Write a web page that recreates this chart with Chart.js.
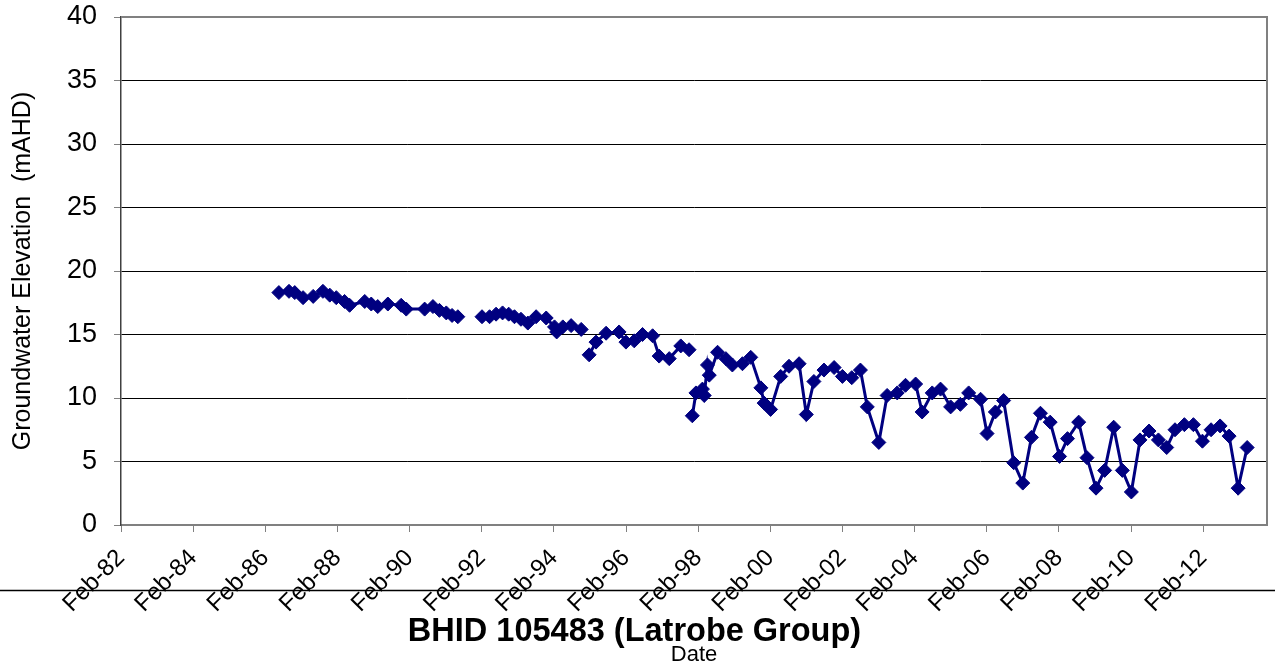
<!DOCTYPE html>
<html>
<head>
<meta charset="utf-8">
<title>BHID 105483 (Latrobe Group)</title>
<script src="https://cdn.jsdelivr.net/npm/chart.js@4.4.1/dist/chart.umd.min.js"></script>
<style>
    html, body { margin: 0; padding: 0; background: #ffffff; }
</style>
</head>
<body>
<canvas id="bore" width="1275" height="668"></canvas>
<script>
// fechas en años decimales, null = hueco en la serie
var fechas = [
    1986.46, 1986.74, 1986.90, 1987.13, 1987.41, 1987.68, 1987.87, 1988.05, 1988.28, 1988.42,
    1988.84, 1989.02, 1989.20, 1989.48, 1989.85, 1989.99, 1990.50, 1990.73, 1990.91, 1991.10,
    1991.26, 1991.42, 1991.80,
    1992.09, 1992.30, 1992.48, 1992.66, 1992.83, 1992.99, 1993.17, 1993.36, 1993.59, 1993.87,
    1994.10, 1994.16, 1994.33, 1994.56, 1994.84, 1994.95,
    1995.06, 1995.25, 1995.53, 1995.89, 1996.08, 1996.31, 1996.54, 1996.82, 1997.00, 1997.28,
    1997.60, 1997.83, 1997.87,
    1997.92, 1998.02, 1998.20, 1998.25, 1998.34, 1998.39, 1998.62, 1998.85, 1999.03, 1999.31,
    1999.54, 1999.82, 1999.91, 2000.09, 2000.37, 2000.60, 2000.88, 2001.08, 2001.29, 2001.57,
    2001.85, 2002.08, 2002.34, 2002.58, 2002.77, 2003.09, 2003.32, 2003.60, 2003.83, 2004.11,
    2004.29, 2004.57, 2004.80, 2005.08, 2005.35, 2005.58, 2005.91, 2006.09, 2006.32, 2006.55,
    2006.83, 2007.08, 2007.32, 2007.57, 2007.84, 2008.10, 2008.32, 2008.63, 2008.86, 2009.11,
    2009.35, 2009.60, 2009.84, 2010.09, 2010.33, 2010.58, 2010.84, 2011.07, 2011.30, 2011.56,
    2011.81, 2012.06, 2012.30, 2012.55, 2012.80, 2013.05, 2013.30
];

var elevacion = [
    18.3, 18.4, 18.3, 17.9, 18.0, 18.4, 18.1, 17.9, 17.6, 17.3,
    17.6, 17.4, 17.2, 17.4, 17.3, 17.0, 17.0, 17.2, 16.9, 16.7,
    16.5, 16.4, null,
    16.4, 16.4, 16.6, 16.7, 16.6, 16.4, 16.2, 15.9, 16.4, 16.3,
    15.6, 15.2, 15.6, 15.7, 15.4, null,
    13.4, 14.4, 15.1, 15.2, 14.4, 14.5, 15.0, 14.9, 13.3, 13.1,
    14.1, 13.8, null,
    8.6, 10.4, 10.7, 10.2, 12.6, 11.8, 13.6, 13.1, 12.6, 12.7,
    13.2, 10.8, 9.6, 9.1, 11.7, 12.5, 12.7, 8.7, 11.3, 12.2,
    12.4, 11.7, 11.6, 12.2, 9.3, 6.5, 10.2, 10.4, 11.0, 11.1,
    8.9, 10.4, 10.7, 9.3, 9.5, 10.4, 9.9, 7.2, 8.9, 9.8,
    4.9, 3.3, 6.9, 8.8, 8.1, 5.4, 6.8, 8.1, 5.3, 2.9,
    4.3, 7.7, 4.3, 2.6, 6.7, 7.4, 6.7, 6.1, 7.5, 7.9,
    7.9, 6.6, 7.5, 7.8, 7.0, 2.9, 6.1
];

var etiquetasX = ['Feb-82', 'Feb-84', 'Feb-86', 'Feb-88', 'Feb-90', 'Feb-92', 'Feb-94', 'Feb-96',
    'Feb-98', 'Feb-00', 'Feb-02', 'Feb-04', 'Feb-06', 'Feb-08', 'Feb-10', 'Feb-12'];
var etiquetasY = [0, 5, 10, 15, 20, 25, 30, 35, 40];

var xMin = 1982.083;
var xMax = 2013.85;

/* puntos x,y para la escala lineal */
var puntos = [];
for (var i = 0; i < fechas.length; i++) {
    puntos.push({ x: fechas[i], y: elevacion[i] });
}

// 'Feb-82' -> 1982 + 1/12
function etiquetaAFecha(txt) {
    var yy = parseInt(txt.split('-')[1], 10);
    return (yy < 50 ? 2000 + yy : 1900 + yy) + 1 / 12;
}
var posTicks = etiquetasX.map(etiquetaAFecha);

var lineaExtra = {
    id: 'lineaExtra',
    beforeDraw: function(chart) {
        var ctx = chart.ctx;
        ctx.save();
        ctx.strokeStyle = '#000000';
        ctx.lineWidth = 1.5;
        ctx.beginPath();
        ctx.moveTo(0, 590.5);
        ctx.lineTo(chart.width, 590.5);
        ctx.stroke();
        ctx.restore();
    },
    beforeDatasetsDraw: function(chart) {
        var a = chart.chartArea;
        var ctx = chart.ctx;
        ctx.save();
        ctx.strokeStyle = '#808080';
        ctx.lineWidth = 2;
        ctx.beginPath();
        ctx.moveTo(a.left, a.top);
        ctx.lineTo(a.right, a.top);
        ctx.lineTo(a.right, a.bottom);
        ctx.stroke();
        ctx.restore();
    }
};

var ctxBore = document.getElementById('bore');

var bore = new Chart(ctxBore, {
    type: 'line',
    data: {
        datasets: [{
            label: 'BHID 105483',
            data: puntos,
            borderColor: '#000080',
            backgroundColor: '#000080',
            borderWidth: 3,
            pointStyle: 'rectRot',
            pointRadius: 7,
            pointBorderWidth: 1,
            pointBackgroundColor: '#000080',
            pointBorderColor: '#000080',
            tension: 0,
            spanGaps: false
        }]
    },
    options: {
        responsive: false,
        animation: false,
        layout: { padding: { top: 17, right: 6, left: 0, bottom: 0 } },
        plugins: {
            legend: { display: false },
            tooltip: { enabled: false },
            title: {
                display: true,
                text: 'BHID 105483 (Latrobe Group)',
                position: 'bottom',
                weight: 1000,
                color: '#000000',
                font: { family: 'Liberation Sans, Arial, sans-serif', size: 32.5, weight: 'bold', lineHeight: 0.9 },
                padding: { top: 2, bottom: 0 }
            },
            subtitle: {
                display: true,
                text: 'Date',
                position: 'bottom',
                weight: 2000,
                fullSize: false,
                color: '#000000',
                font: { family: 'Liberation Sans, Arial, sans-serif', size: 22, lineHeight: 0.75 },
                padding: { top: 0, bottom: 5 }
            }
        },
        scales: {
            x: {
                type: 'linear',
                min: xMin,
                max: xMax,
                afterBuildTicks: function(scale) {
                    scale.ticks = posTicks.map(function(v) { return { value: v }; });
                },
                afterFit: function(scale) { scale.height = 90.25; },
                ticks: {
                    autoSkip: false,
                    maxRotation: 45,
                    minRotation: 45,
                    padding: 12,
                    color: '#000000',
                    font: { family: 'Liberation Sans, Arial, sans-serif', size: 24 },
                    callback: function(value, index) { return etiquetasX[index]; }
                },
                grid: { drawOnChartArea: false, tickLength: 7, color: '#808080', lineWidth: 1 },
                border: { color: '#808080', width: 2 }
            },
            y: {
                min: 0,
                max: 40,
                afterBuildTicks: function(scale) {
                    scale.ticks = etiquetasY.map(function(v) { return { value: v }; });
                },
                afterFit: function(scale) {
                    scale.width = 121;
                    scale.paddingTop = 0;
                    scale.paddingBottom = 0;
                },
                ticks: {
                    padding: 17,
                    color: '#000000',
                    font: { family: 'Liberation Sans, Arial, sans-serif', size: 27 }
                },
                grid: {
                    color: function(c) { return c.tick && c.tick.value === 40 ? '#808080' : '#000000'; },
                    tickColor: '#808080',
                    tickLength: 7,
                    lineWidth: 1
                },
                border: { color: '#404040', width: 1.5 },
                title: {
                    display: true,
                    text: 'Groundwater Elevation  (mAHD)',
                    color: '#000000',
                    font: { family: 'Liberation Sans, Arial, sans-serif', size: 25 },
                    padding: { top: 8, bottom: 0 }
                }
            }
        }
    },
    plugins: [lineaExtra]
});
</script>
</body>
</html>
